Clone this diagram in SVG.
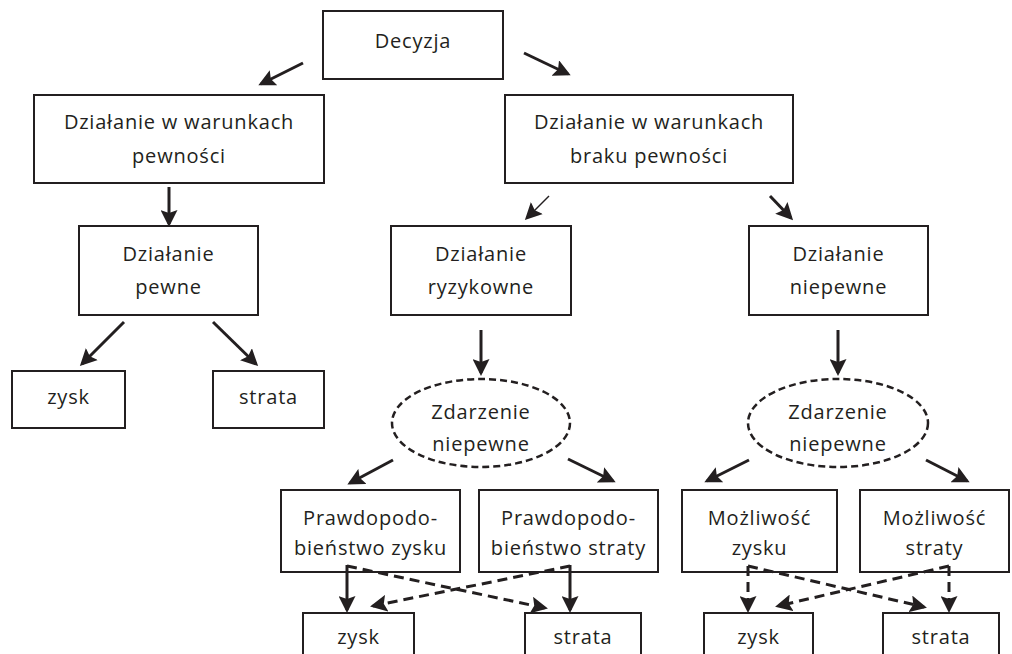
<svg xmlns="http://www.w3.org/2000/svg" width="1012" height="654" viewBox="0 0 1012 654">
<defs>
<style>
.box{fill:#fff;stroke:#231f20;stroke-width:2}
.ell{fill:#fff;stroke:#231f20;stroke-width:2.5;stroke-dasharray:7 4}
.t{font-family:"Open Sans","Liberation Sans",sans-serif;font-size:20px;letter-spacing:0.8px;fill:#231f20;text-anchor:middle}
.c{fill:none;stroke:#231f20;stroke-width:3}
.thin{fill:none;stroke:#231f20;stroke-width:1.5}
.d{fill:none;stroke:#231f20;stroke-width:3;stroke-dasharray:10 6}
</style>
<marker id="ah" markerUnits="userSpaceOnUse" markerWidth="17" markerHeight="17" viewBox="0 0 17 17" refX="14" refY="8.5" orient="auto">
<path d="M0,0 L17,8.5 L0,17 L3,8.5 z" fill="#231f20"/>
</marker>
</defs>
<rect width="1012" height="654" fill="#fff"/>

<g id="decyzja"><rect class="box" x="323" y="11" width="180" height="68"/><text class="t" x="413" y="48">Decyzja</text></g>
<g id="pewnosc"><rect class="box" x="34" y="95" width="290" height="88"/><text class="t" x="179" y="129">Działanie w warunkach</text><text class="t" x="179" y="163">pewności</text></g>
<g id="brak-pewnosci"><rect class="box" x="505" y="95" width="288" height="88"/><text class="t" x="649" y="129">Działanie w warunkach</text><text class="t" x="649" y="163">braku pewności</text></g>
<g id="dzialanie-pewne"><rect class="box" x="79" y="226" width="179" height="89"/><text class="t" x="168.5" y="261">Działanie</text><text class="t" x="168.5" y="294">pewne</text></g>
<g id="zysk1"><rect class="box" x="12" y="371" width="113" height="57"/><text class="t" x="68.5" y="404">zysk</text></g>
<g id="strata1"><rect class="box" x="213" y="371" width="111" height="57"/><text class="t" x="268.5" y="404">strata</text></g>
<g id="ryzykowne"><rect class="box" x="391" y="226" width="180" height="89"/><text class="t" x="481" y="261">Działanie</text><text class="t" x="481" y="294">ryzykowne</text></g>
<g id="niepewne"><rect class="box" x="749" y="226" width="179" height="89"/><text class="t" x="838.5" y="261">Działanie</text><text class="t" x="838.5" y="294">niepewne</text></g>
<g id="zdarzenie1"><ellipse class="ell" cx="481" cy="423" rx="89" ry="44"/><text class="t" x="481" y="419">Zdarzenie</text><text class="t" x="481" y="451">niepewne</text></g>
<g id="zdarzenie2"><ellipse class="ell" cx="838" cy="423" rx="90" ry="44"/><text class="t" x="838" y="419">Zdarzenie</text><text class="t" x="838" y="451">niepewne</text></g>
<g id="prawd-zysku"><rect class="box" x="281" y="490" width="179" height="82"/><text class="t" x="370.5" y="525">Prawdopodo-</text><text class="t" x="370.5" y="555">bieństwo zysku</text></g>
<g id="prawd-straty"><rect class="box" x="479" y="490" width="179" height="82"/><text class="t" x="568.5" y="525">Prawdopodo-</text><text class="t" x="568.5" y="555">bieństwo straty</text></g>
<g id="mozl-zysku"><rect class="box" x="682" y="490" width="155" height="82"/><text class="t" x="759.5" y="525">Możliwość</text><text class="t" x="759.5" y="555">zysku</text></g>
<g id="mozl-straty"><rect class="box" x="860" y="490" width="149" height="82"/><text class="t" x="934.5" y="525">Możliwość</text><text class="t" x="934.5" y="555">straty</text></g>
<g id="zysk2"><rect class="box" x="303" y="613" width="111" height="60"/><text class="t" x="358.5" y="644">zysk</text></g>
<g id="strata2"><rect class="box" x="525" y="613" width="116" height="60"/><text class="t" x="583" y="644">strata</text></g>
<g id="zysk3"><rect class="box" x="704" y="613" width="109" height="60"/><text class="t" x="758.5" y="644">zysk</text></g>
<g id="strata3"><rect class="box" x="883" y="613" width="116" height="60"/><text class="t" x="941" y="644">strata</text></g>

<g id="connectors">
<path class="c" marker-end="url(#ah)" d="M303,63 L261,84"/>
<path class="c" marker-end="url(#ah)" d="M524,53 L568,74"/>
<path class="c" marker-end="url(#ah)" d="M169,187 L169,224"/>
<path class="c" marker-end="url(#ah)" d="M124,322 L82,364"/>
<path class="c" marker-end="url(#ah)" d="M213,322 L256,364"/>
<path class="thin" marker-end="url(#ah)" d="M549,196 L527,218"/>
<path class="c" marker-end="url(#ah)" d="M770,196 L791,218"/>
<path class="c" marker-end="url(#ah)" d="M481,330 L481,373"/>
<path class="c" marker-end="url(#ah)" d="M838,330 L838,373"/>
<path class="c" marker-end="url(#ah)" d="M393,460 L350,483"/>
<path class="c" marker-end="url(#ah)" d="M568,459 L613,481"/>
<path class="c" marker-end="url(#ah)" d="M749,460 L707,481"/>
<path class="c" marker-end="url(#ah)" d="M926,460 L967,481"/>
<path class="c" marker-end="url(#ah)" d="M347,565 L347,610"/>
<path class="c" marker-end="url(#ah)" d="M570,565 L570,610"/>
<path class="d" marker-end="url(#ah)" d="M347,566 L545,608"/>
<path class="d" marker-end="url(#ah)" d="M570,566 L373,606"/>
<path class="d" marker-end="url(#ah)" d="M748,566 L748,610"/>
<path class="d" marker-end="url(#ah)" d="M949,566 L949,610"/>
<path class="d" marker-end="url(#ah)" d="M748,566 L924,607"/>
<path class="d" marker-end="url(#ah)" d="M949,566 L778,606"/>
</g>
</svg>
